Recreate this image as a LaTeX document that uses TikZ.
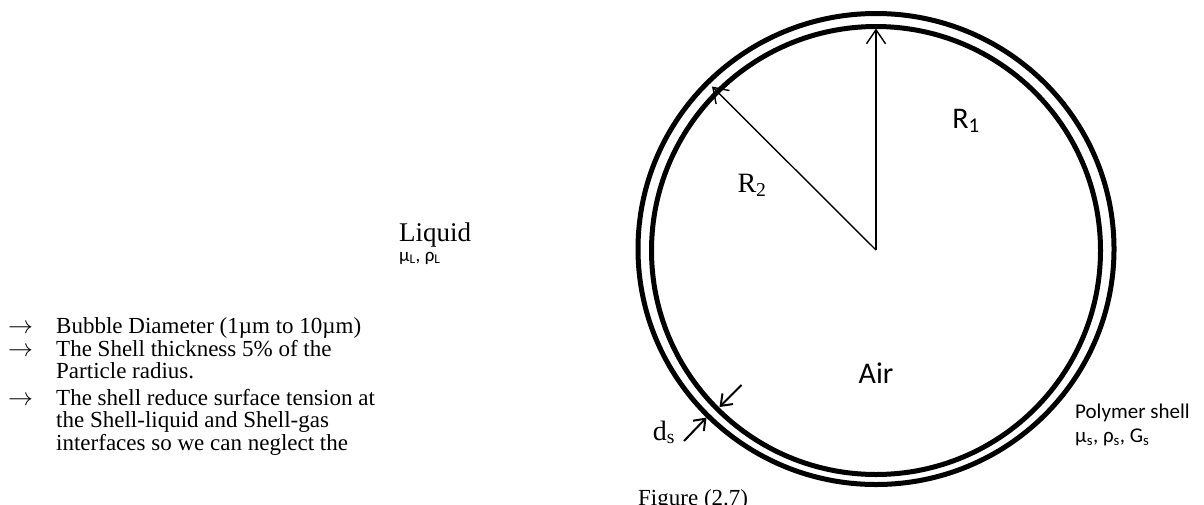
\documentclass[tikz,border=0pt]{standalone}
\usepackage{fontspec}
\setmainfont{Liberation Serif}
\newfontfamily\calib{Carlito}
\usetikzlibrary{arrows.meta}
\begin{document}
\begin{tikzpicture}[x=1pt,y=-1pt,
  shell/.style={line width=5pt},
  radiusarrow/.style={line width=1.4pt,-{Straight Barb[length=14pt,width=19pt,line width=1.4pt]}},
  dsarrow/.style={line width=2pt,-{Straight Barb[length=10pt,width=15pt,line width=2pt]}},
  listtext/.style={anchor=base west,inner sep=0pt,font=\fontsize{23}{23}\selectfont},
  sanslabel/.style={anchor=base,inner sep=0pt,font=\calib\fontsize{30}{30}\selectfont},
  seriflabel/.style={anchor=base,inner sep=0pt,font=\fontsize{28}{28}\selectfont},
  smallsans/.style={anchor=base west,inner sep=0pt,font=\calib\fontsize{21}{21}\selectfont}]
\useasboundingbox (0,0) rectangle (1204,504);
\fill[white] (0,0) rectangle (1204,504);
% shell
\coordinate (Co) at (876,249);
\coordinate (Ci) at (876,250.5);
\coordinate (Ctr) at (876,250);
\draw[shell] (Co) ellipse [x radius=238pt, y radius=235.5pt];
\draw[shell] (Ci) ellipse [x radius=224.5pt, y radius=224pt];
% radii
\coordinate (R1tip) at (876,28.5);
\coordinate (R2tip) at (712,86.5);
\draw[radiusarrow] (Ctr) -- (R1tip);
\draw[radiusarrow] (Ctr) -- (R2tip);
% thickness arrows
\coordinate (dsAtail) at (741.5,385);
\coordinate (dsAtip) at (719.5,407);
\coordinate (dsBtail) at (684,441);
\coordinate (dsBtip) at (706.5,417.5);
\draw[dsarrow] (dsAtail) -- (dsAtip);
\draw[dsarrow] (dsBtail) -- (dsBtip);
% labels
\node[sanslabel] (r1) at (966,128) {R\textsubscript{1}};
\node[seriflabel] (r2) at (752,192) {R\textsubscript{2}};
\node[sanslabel] (air) at (876,383) {Air};
\node[seriflabel] (ds) at (664,440) {d\textsubscript{s}};
\node[anchor=base west,inner sep=0pt,font=\fontsize{27}{27}\selectfont] (liquid) at (399,241) {Liquid};
\node[anchor=base west,inner sep=0pt,font=\calib\fontsize{19}{19}\selectfont] (liqprop) at (399,261) {μ\textsubscript{L}, ρ\textsubscript{L}};
\node[smallsans] (poly) at (1075,418) {Polymer shell};
\node[smallsans] (polyprop) at (1075,442) {μ\textsubscript{s}, ρ\textsubscript{s}, G\textsubscript{s}};
\node[anchor=base west,inner sep=0pt,font=\fontsize{23}{23}\selectfont] (fig) at (638,505) {Figure (2.7)};
% list
\node[listtext] (a1) at (8,333) {$\rightarrow$};
\node[listtext] (a2) at (8,356) {$\rightarrow$};
\node[listtext] (a3) at (8,405) {$\rightarrow$};
\node[listtext] (l1) at (56,333) {Bubble Diameter (1µm to 10µm)};
\node[listtext] (l2) at (56,356) {The Shell thickness 5\% of the};
\node[listtext] (l3) at (56,378) {Particle radius.};
\node[listtext] (l4) at (56,405) {The shell reduce surface tension at};
\node[listtext] (l5) at (56,427.5) {the Shell-liquid and Shell-gas};
\node[listtext] (l6) at (56,450) {interfaces so we can neglect the};
\end{tikzpicture}
\end{document}
